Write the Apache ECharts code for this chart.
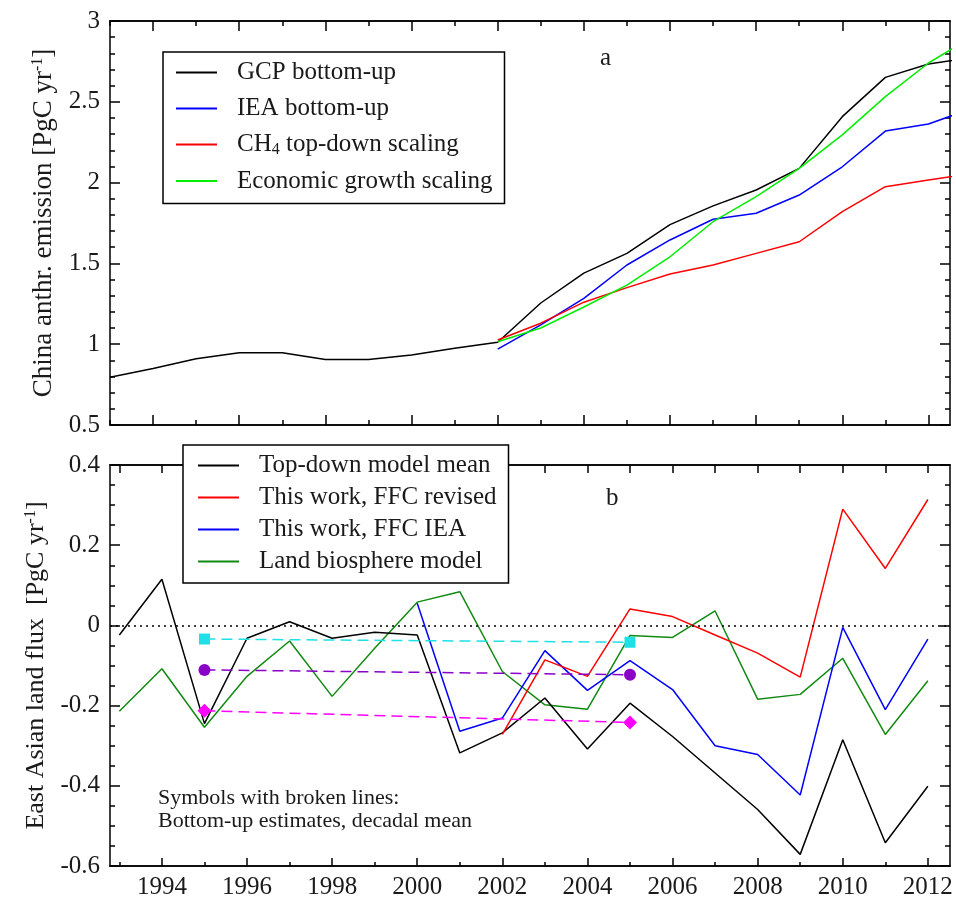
<!DOCTYPE html>
<html><head><meta charset="utf-8">
<script src="https://cdn.jsdelivr.net/npm/echarts@6/dist/echarts.min.js"></script>
<style>html,body{margin:0;padding:0;background:#fff}#c{width:956px;height:900px}</style>
</head><body><div id="c"></div>
<script>
// ---------- Panel a data ----------
const yearsTop = [1993,1994,1995,1996,1997,1998,1999,2000,2001,2002,2003,2004,2005,2006,2007,2008,2009,2010,2011,2012,2013];
const gcpBottomUp = [0.795,0.85,0.91,0.947,0.947,0.906,0.906,0.933,0.975,1.012,1.255,1.44,1.562,1.74,1.856,1.954,2.088,2.408,2.651,2.734,2.774];
const yearsScaled = [2002,2003,2004,2005,2006,2007,2008,2009,2010,2011,2012,2013];
const ieaBottomUp = [0.969,1.12,1.284,1.49,1.645,1.773,1.81,1.923,2.098,2.319,2.363,2.457];
const ch4TopDown = [1.026,1.13,1.26,1.35,1.434,1.49,1.562,1.634,1.82,1.975,2.016,2.056];
const economicGrowth = [1.015,1.10,1.23,1.366,1.541,1.758,1.913,2.088,2.295,2.532,2.74,2.90];

// ---------- Panel b data ----------
const yearsBot = [1993,1994,1995,1996,1997,1998,1999,2000,2001,2002,2003,2004,2005,2006,2007,2008,2009,2010,2011,2012];
const topDownMean = [-0.024,0.115,-0.245,-0.032,0.009,-0.032,-0.017,-0.024,-0.318,-0.268,-0.181,-0.308,-0.194,-0.277,-0.368,-0.459,-0.571,-0.285,-0.542,-0.401];
const ffcRevised = [null,null,null,null,null,null,null,null,null,-0.272,-0.086,-0.127,0.041,0.022,-0.024,-0.069,-0.129,0.29,0.142,0.314];
const ffcIEA = [null,null,null,null,null,null,null,0.055,-0.264,-0.231,-0.063,-0.162,-0.088,-0.16,-0.3,-0.322,-0.423,-0.005,-0.21,-0.034];
const landBiosphere = [-0.214,-0.108,-0.254,-0.127,-0.039,-0.177,-0.057,0.058,0.084,-0.115,-0.198,-0.209,-0.025,-0.03,0.036,-0.184,-0.172,-0.082,-0.272,-0.138];
// decadal bottom-up means (symbols with broken lines)
const decadeYears = [1995,2005];
const decadalCyan = [-0.034,-0.042];
const decadalPurple = [-0.111,-0.123];
const decadalMagenta = [-0.213,-0.242];

// ---------- tick labels ----------
const evenYears = [1994,1996,1998,2000,2002,2004,2006,2008,2010,2012];
const oddYears = [1993,1995,1997,1999,2001,2003,2005,2007,2009,2011];

const FONT = '"Liberation Serif","Times New Roman",serif';
const TXT = '#1a1a1a';
const pairs = (xs, ys) => xs.map((x, i) => [x, ys[i]]);

function xAx(grid, min, max, pos, vals, len, labels) {
  return {
    type: 'value', gridIndex: grid, min: min, max: max, position: pos,
    axisLine: {show: true, onZero: false, lineStyle: {color: '#000', width: 1.5}},
    axisTick: {show: true, inside: true, length: len, customValues: vals, lineStyle: {color: '#000', width: 1.5}},
    axisLabel: labels ? {show: true, customValues: vals, margin: 9, color: TXT, fontFamily: FONT, fontSize: 25, formatter: v => String(v)} : {show: false},
    splitLine: {show: false}
  };
}
function yAx(grid, min, max, interval, minorSplit, pos, labels, name, nameSize) {
  const a = {
    type: 'value', gridIndex: grid, min: min, max: max, interval: interval, position: pos,
    axisLine: {show: true, onZero: false, lineStyle: {color: '#000', width: 1.5}},
    axisTick: {show: true, inside: true, length: 10, lineStyle: {color: '#000', width: 1.5}},
    minorTick: {show: true, splitNumber: minorSplit, length: 5, lineStyle: {color: '#000', width: 1.5}},
    axisLabel: labels ? {show: true, margin: 10, color: TXT, fontFamily: FONT, fontSize: 25, formatter: v => String(+v.toFixed(2))} : {show: false},
    splitLine: {show: false}, minorSplitLine: {show: false}
  };
  if (name) {
    a.name = name; a.nameLocation = 'middle'; a.nameGap = 52; a.nameRotate = 90;
    a.nameTextStyle = {rich: {
      t: {fontFamily: FONT, fontSize: nameSize, color: TXT, lineHeight: 28},
      s: {fontFamily: FONT, fontSize: 16, color: TXT, verticalAlign: 'top', lineHeight: 28}
    }};
  }
  return a;
}

const legendText = {
  fontFamily: FONT, fontSize: 25, color: TXT, padding: [0, 0, 0, 15],
  rich: {
    n: {fontFamily: FONT, fontSize: 25, color: TXT, lineHeight: 26},
    s: {fontFamily: FONT, fontSize: 16, color: TXT, verticalAlign: 'bottom', lineHeight: 24}
  }
};
const lineS = (name, xi, yi, data, color) => ({
  name: name, type: 'line', xAxisIndex: xi, yAxisIndex: yi, data: data,
  symbol: 'none', clip: true, connectNulls: false,
  lineStyle: {color: color, width: 1.5}, itemStyle: {color: color}
});
const decS = (name, data, color, symbol, size) => ({
  name: name, type: 'line', xAxisIndex: 4, yAxisIndex: 2, data: data,
  symbol: symbol, symbolSize: size, showSymbol: true,
  lineStyle: {color: color, width: 1.5, type: [11, 6]}, itemStyle: {color: color}
});

const option = {
  animation: false,
  backgroundColor: '#fff',
  grid: [
    {left: 110, top: 21, width: 840, height: 404},
    {left: 110, top: 465, width: 840, height: 402}
  ],
  xAxis: [
    xAx(0, 1993, 2012.5, 'bottom', evenYears, 10, false),
    xAx(0, 1993, 2012.5, 'bottom', oddYears, 5, false),
    xAx(0, 1993, 2012.5, 'top', evenYears, 10, false),
    xAx(0, 1993, 2012.5, 'top', oddYears, 5, false),
    xAx(1, 1992.78, 2012.52, 'bottom', evenYears, 8, true),
    xAx(1, 1992.78, 2012.52, 'bottom', oddYears, 4, false),
    xAx(1, 1992.78, 2012.52, 'top', evenYears, 8, false),
    xAx(1, 1992.78, 2012.52, 'top', oddYears, 8, false)
  ],
  yAxis: [
    yAx(0, 0.5, 3, 0.5, 5, 'left', true, '{t|China anthr. emission [PgC yr}{s|-1}{t|]}', 27),
    yAx(0, 0.5, 3, 0.5, 5, 'right', false),
    yAx(1, -0.6, 0.4, 0.2, 4, 'left', true, '{t|East Asian land flux  [PgC yr}{s|-1}{t|]}', 26),
    yAx(1, -0.6, 0.4, 0.2, 4, 'right', false)
  ],
  legend: [
    {
      data: ['GCP bottom-up', 'IEA bottom-up', 'CH4 top-down scaling', 'Economic growth scaling'],
      orient: 'vertical', left: 163, top: 52, selectedMode: false,
      backgroundColor: '#fff', borderColor: '#000', borderWidth: 1.5,
      padding: [8, 12, 10, 12], itemWidth: 41, itemHeight: 14, itemGap: 11,
      itemStyle: {opacity: 0, borderWidth: 0},
      textStyle: legendText,
      formatter: n => n === 'CH4 top-down scaling' ? '{n|CH}{s|4}{n| top-down scaling}' : n
    },
    {
      data: ['Top-down model mean', 'This work, FFC revised', 'This work, FFC IEA', 'Land biosphere model'],
      orient: 'vertical', left: 183, top: 445, selectedMode: false,
      backgroundColor: '#fff', borderColor: '#000', borderWidth: 1.5,
      padding: [8, 12, 9, 14], itemWidth: 41, itemHeight: 14, itemGap: 7,
      itemStyle: {opacity: 0, borderWidth: 0},
      textStyle: legendText
    }
  ],
  series: [
    lineS('GCP bottom-up', 0, 0, pairs(yearsTop, gcpBottomUp), '#000000'),
    lineS('IEA bottom-up', 0, 0, pairs(yearsScaled, ieaBottomUp), '#0000ff'),
    lineS('CH4 top-down scaling', 0, 0, pairs(yearsScaled, ch4TopDown), '#ff0000'),
    lineS('Economic growth scaling', 0, 0, pairs(yearsScaled, economicGrowth), '#00ee00'),
    Object.assign(lineS('Land biosphere model', 4, 2, pairs(yearsBot, landBiosphere), '#108a10'), {
      markLine: {silent: true, symbol: 'none', label: {show: false},
        lineStyle: {type: [2, 4], color: '#000', width: 1.5}, data: [{yAxis: 0}]}
    }),
    lineS('Top-down model mean', 4, 2, pairs(yearsBot, topDownMean), '#000000'),
    lineS('This work, FFC IEA', 4, 2, pairs(yearsBot, ffcIEA), '#0000ff'),
    lineS('This work, FFC revised', 4, 2, pairs(yearsBot, ffcRevised), '#ff0000'),
    decS('Bottom-up A', pairs(decadeYears, decadalCyan), '#1ee0e6', 'rect', 11),
    decS('Bottom-up B', pairs(decadeYears, decadalPurple), '#8a00c8', 'circle', 12),
    decS('Bottom-up C', pairs(decadeYears, decadalMagenta), '#ff00ff', 'diamond', 14)
  ],
  graphic: [
    {type: 'text', left: 600, top: 46, style: {text: 'a', font: '25px ' + FONT, fill: TXT}},
    {type: 'text', left: 606, top: 486, style: {text: 'b', font: '25px ' + FONT, fill: TXT}},
    {type: 'text', left: 158, top: 787, style: {text: 'Symbols with broken lines:\nBottom-up estimates, decadal mean', font: '22px ' + FONT, fill: TXT, lineHeight: 23}}
  ]
};
const chart = echarts.init(document.getElementById('c'), null, {renderer: 'canvas'});
chart.setOption(option);
</script>
</body></html>
